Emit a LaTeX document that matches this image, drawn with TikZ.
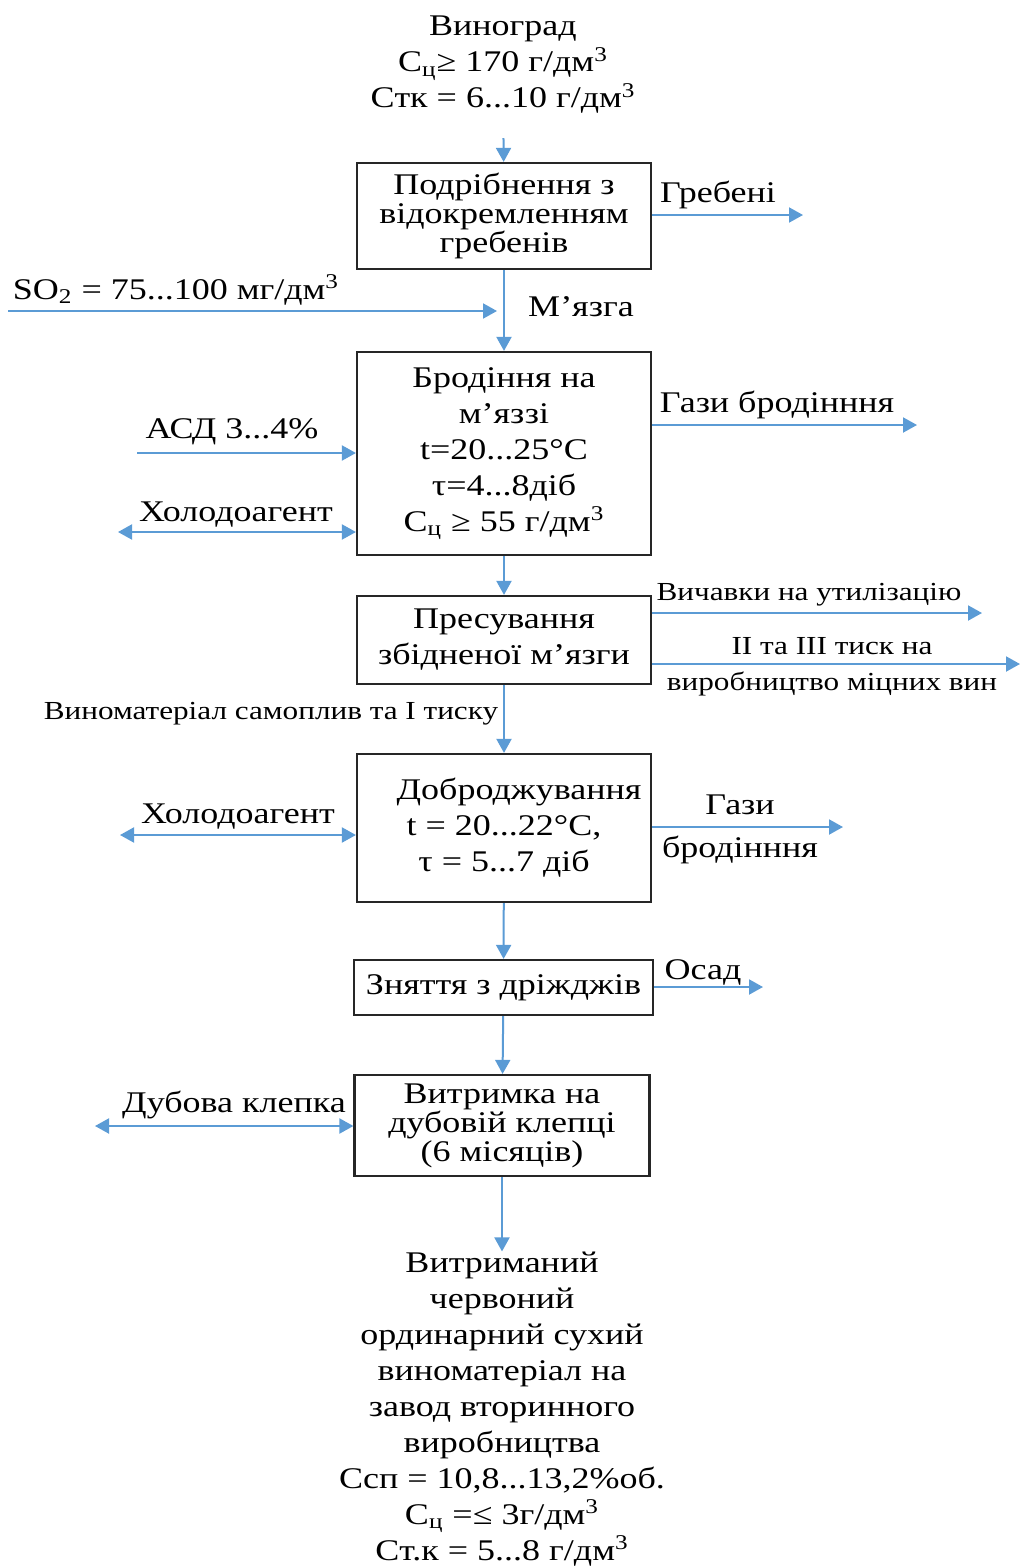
\documentclass[tikz,border=0pt]{standalone}
\usepackage{fontspec}
\setmainfont{Liberation Serif}[FakeStretch=1.2]
\usetikzlibrary{arrows.meta}
\definecolor{flowBlue}{HTML}{5B9BD5}

\begin{document}
\begin{tikzpicture}
[x=0.5pt,y=-0.5pt,
  boxDecorate/.style={shape=rectangle,draw=black!85,line width=1.1pt,align=center,
    inner sep=0pt,minimum width=147pt,font=\fontsize{15}{18}\selectfont},%
  textDecorate/.style={align=center,inner sep=0pt,font=\fontsize{15}{18}\selectfont},%
  smallDecorate/.style={align=center,inner sep=0pt,font=\fontsize{13}{14}\selectfont},%
  lineDecorate/.style={draw=flowBlue,line width=1pt,-{Triangle[length=7pt,width=7.5pt]}},%
  bothDecorate/.style={draw=flowBlue,line width=1pt,{Triangle[length=7pt,width=7.5pt]}-{Triangle[length=7pt,width=7.5pt]}}]
\useasboundingbox (0,0) rectangle (1021,1568);
%% process boxes
\node (grape) at (503,65) [textDecorate]
  {Виноград\\C\textsubscript{ц}≥ 170 г/дм\textsuperscript{3}\\Cтк = 6...10 г/дм\textsuperscript{3}};
\node (crush) at (504,216) [boxDecorate,minimum height=53pt,font=\fontsize{15}{14.5}\selectfont]
  {Подрібнення з\\відокремленням\\гребенів};
\node (ferment) at (504,453.5) [boxDecorate,minimum height=101.5pt]
  {Бродіння на\\м’яззі\\t=20...25°C\\τ=4...8діб\\C\textsubscript{ц} ≥ 55 г/дм\textsuperscript{3}};
\node (press) at (504,640) [boxDecorate,minimum height=44pt]
  {Пресування\\збідненої м’язги};
\node (after) at (504,828) [boxDecorate,minimum height=74pt]
  {\quad Доброджування\\t = 20...22°C,\\τ = 5...7 діб};
\node (rack) at (503.5,987.5) [boxDecorate,minimum width=149.5pt,minimum height=27.5pt]
  {Зняття з дріжджів};
\node (oakage) at (502,1125.5) [boxDecorate,minimum width=147.5pt,minimum height=50.5pt,font=\fontsize{15}{14.5}\selectfont]
  {Витримка на\\дубовій клепці\\(6 місяців)};
\node (product) at (502,1409) [textDecorate]
  {Витриманий\\червоний\\ординарний сухий\\виноматеріал на\\завод вторинного\\виробництва\\Cсп = 10,8...13,2\%об.\\C\textsubscript{ц} =≤ 3г/дм\textsuperscript{3}\\Cт.к = 5...8 г/дм\textsuperscript{3}};
%% side labels
\node (stemsTxt) at (718,195) [textDecorate] {Гребені};
\node (so2Txt) at (176,290) [textDecorate] {SO\textsubscript{2} = 75...100 мг/дм\textsuperscript{3}};
\node (mustTxt) at (581,307) [textDecorate] {М’язга};
\node (asdTxt) at (232,432) [textDecorate] {АСД 3...4\%};
\node (coolTxtA) at (236,515) [textDecorate] {Холодоагент};
\node (gasTxtA) at (777,405) [textDecorate] {Гази бродінння};
\node (pomaceTxt) at (809,595) [smallDecorate] {Вичавки на утилізацію};
\node (pressTxtA) at (832,646) [smallDecorate] {II та III тиск на};
\node (pressTxtB) at (832,684) [smallDecorate] {виробництво міцних вин};
\node (freeTxt) at (271,714) [smallDecorate] {Виноматеріал самоплив та I тиску};
\node (coolTxtB) at (238,817) [textDecorate] {Холодоагент};
\node (gasTxtB) at (740,805) [textDecorate] {Гази};
\node (gasTxtC) at (740,850) [textDecorate] {бродінння};
\node (leesTxt) at (703,972) [textDecorate] {Осад};
\node (oakTxt) at (234,1105) [textDecorate] {Дубова клепка};
%% free ends of side arrows
\coordinate (stemsEnd) at (803,215);
\coordinate (so2Start) at (8,311);
\coordinate (so2End) at (497,311);
\coordinate (asdStart) at (137,453);
\coordinate (coolEndA) at (118,532);
\coordinate (gasEndA) at (917,425);
\coordinate (pomaceEnd) at (982,613);
\coordinate (pressEnd) at (1020,664);
\coordinate (coolEndB) at (120,835);
\coordinate (gasEndB) at (843,827);
\coordinate (leesEnd) at (763,987);
\coordinate (oakEnd) at (95,1126);
%% main flow
\path
\foreach \startnode/\endnode in {
  crush/ferment, ferment/press, press/after, after/rack, rack/oakage}
{
  (\startnode) edge[lineDecorate] (\endnode)
};
\draw[lineDecorate,shorten <=12pt] (grape) -- (crush);
\draw[lineDecorate] (oakage) -- (product);
%% side flows
\draw[lineDecorate] (crush.east |- stemsEnd) -- (stemsEnd);
\draw[lineDecorate] (so2Start) -- (so2End);
\draw[lineDecorate] (asdStart) -- (ferment.west |- asdStart);
\draw[bothDecorate] (coolEndA) -- (ferment.west |- coolEndA);
\draw[lineDecorate] (ferment.east |- gasEndA) -- (gasEndA);
\draw[lineDecorate] (press.east |- pomaceEnd) -- (pomaceEnd);
\draw[lineDecorate] (press.east |- pressEnd) -- (pressEnd);
\draw[bothDecorate] (coolEndB) -- (after.west |- coolEndB);
\draw[lineDecorate] (after.east |- gasEndB) -- (gasEndB);
\draw[lineDecorate] (rack.east |- leesEnd) -- (leesEnd);
\draw[bothDecorate] (oakEnd) -- (oakage.west |- oakEnd);
\end{tikzpicture}
\end{document}
